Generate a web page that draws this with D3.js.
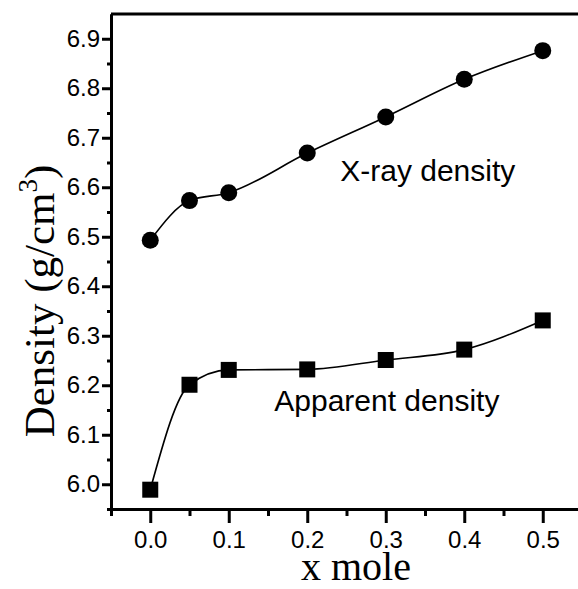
<!DOCTYPE html>
<html>
<head>
<meta charset="utf-8">
<script src="https://cdn.jsdelivr.net/npm/d3@7"></script>
<style>
  body { margin: 0; background: #fff; }
  svg { display: block; }
</style>
</head>
<body>
<div id="chart"></div>
<script>
// data
var xMole = [0.0, 0.05, 0.1, 0.2, 0.3, 0.4, 0.5];
var xrayDensity = [6.493, 6.573, 6.589, 6.669, 6.742, 6.818, 6.876];
var apparentDensity = [5.989, 6.201, 6.231, 6.232, 6.251, 6.272, 6.331];
var xTicks = [0.0, 0.1, 0.2, 0.3, 0.4, 0.5];
var xMinor = [-0.05, 0.05, 0.15, 0.25, 0.35, 0.45];
var yTicks = [6.0, 6.1, 6.2, 6.3, 6.4, 6.5, 6.6, 6.7, 6.8, 6.9];
var yMinor = [5.95, 6.05, 6.15, 6.25, 6.35, 6.45, 6.55, 6.65, 6.75, 6.85];

// dimensions (plot runs a little past the right edge of the window)
var W = 578, H = 589;
var margin = { top: 14, left: 111 },
  plotW = 471,
  plotH = 495;

var svg = d3.select("#chart")
  .append("svg")
  .attr("width", W)
  .attr("height", H);

var g = svg.append("g")
  .attr("transform", "translate(" + margin.left + "," + margin.top + ")");

var x = d3.scaleLinear().domain([-0.05, 0.55]).range([0, plotW]);
var y = d3.scaleLinear().domain([5.95, 6.95]).range([plotH, 0]);

var tickFont = "'Liberation Sans', Arial, sans-serif";
var titleFont = "'Liberation Serif', 'Times New Roman', serif";

// frame: top and right border
g.append("path")
  .attr("d", "M0,0H" + plotW + "V" + plotH)
  .attr("fill", "none")
  .attr("stroke", "#000")
  .attr("stroke-width", 3);

// minor ticks (no labels)
var xm = g.append("g")
  .attr("transform", "translate(0," + plotH + ")")
  .call(d3.axisBottom(x).tickValues(xMinor).tickSize(7).tickSizeOuter(0));
var ym = g.append("g")
  .call(d3.axisLeft(y).tickValues(yMinor).tickSize(4).tickSizeOuter(0));
xm.selectAll("text").remove();
ym.selectAll("text").remove();

// X axis
g.append("g")
  .attr("transform", "translate(0," + plotH + ")")
  .call(d3.axisBottom(x).tickValues(xTicks).tickFormat(d3.format(".1f"))
    .tickSize(14).tickPadding(8).tickSizeOuter(0));

// Y axis
g.append("g")
  .call(d3.axisLeft(y).tickValues(yTicks).tickFormat(d3.format(".1f"))
    .tickSize(9).tickPadding(2).tickSizeOuter(0));

g.selectAll(".domain").attr("stroke", "#000").attr("stroke-width", 3);
g.selectAll(".tick line").attr("stroke", "#000").attr("stroke-width", 3);
g.selectAll(".tick text")
  .style("font-family", tickFont)
  .style("font-size", "24px")
  .attr("fill", "#000");

// lines
var xray = xMole.map(function (d, i) { return { x: d, y: xrayDensity[i] }; });
var appar = xMole.map(function (d, i) { return { x: d, y: apparentDensity[i] }; });

var line = d3.line()
  .x(function (d) { return x(d.x); })
  .y(function (d) { return y(d.y); })
  .curve(d3.curveMonotoneX);

g.append("path").datum(xray)
  .attr("d", line).attr("fill", "none").attr("stroke", "#000").attr("stroke-width", 1.6);
g.append("path").datum(appar)
  .attr("d", line).attr("fill", "none").attr("stroke", "#000").attr("stroke-width", 1.6);

// markers
g.selectAll(".dot")
  .data(xray)
  .enter().append("circle")
  .attr("cx", function (d) { return x(d.x); })
  .attr("cy", function (d) { return y(d.y); })
  .attr("r", 8.5)
  .attr("fill", "#000");

var sq = 16;
g.selectAll(".sq")
  .data(appar)
  .enter().append("rect")
  .attr("x", function (d) { return x(d.x) - sq / 2; })
  .attr("y", function (d) { return y(d.y) - sq / 2; })
  .attr("width", sq)
  .attr("height", sq)
  .attr("fill", "#000");

// series labels
g.append("text")
  .attr("x", x(0.242))
  .attr("y", y(6.613))
  .style("font-family", tickFont)
  .style("font-size", "30px")
  .text("X-ray density");

g.append("text")
  .attr("x", x(0.158))
  .attr("y", y(6.147))
  .style("font-family", tickFont)
  .style("font-size", "30px")
  .text("Apparent density");

// axis titles
svg.append("text")
  .attr("x", 356)
  .attr("y", 580)
  .attr("text-anchor", "middle")
  .style("font-family", titleFont)
  .style("font-size", "40px")
  .text("x mole");

var yt = svg.append("text")
  .attr("transform", "translate(54,301) rotate(-90)")
  .attr("text-anchor", "middle")
  .style("font-family", titleFont)
  .style("font-size", "43px");
yt.append("tspan").text("Density (g/cm");
yt.append("tspan").attr("dy", -17).style("font-size", "27px").text("3");
yt.append("tspan").attr("dy", 17).text(")");
</script>
</body>
</html>
